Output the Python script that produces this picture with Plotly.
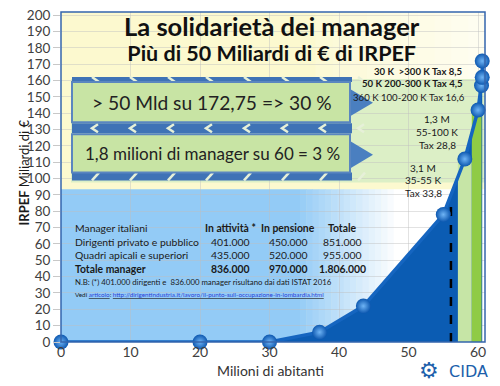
import plotly.graph_objects as go

# ---- data ----
pop_cum = [0, 20, 30, 37.2, 43.5, 55, 58.1, 60.0, 60.5, 60.6, 60.6]   # milioni di abitanti (cumulati)
irpef_cum = [0, 0, 0, 6, 22, 78, 112, 142, 157, 162, 172]          # miliardi di € (cumulati)
bar_x0 = [57.1, 59.1]
bar_x1 = [59.1, 60.5]
bar_top = [112, 141]
bar_colors = ["#c6e5a6", "#8fcb45"]
dash_x = 56.1
dash_top = 88

x_ticks = [0, 10, 20, 30, 40, 50, 60]
y_ticks = list(range(0, 201, 10))

table_rows = [
    ("Manager italiani", "In attività *", "In pensione", "Totale", False, True),
    ("Dirigenti privato e pubblico", "401.000", "450.000", "851.000", False, False),
    ("Quadri apicali e superiori", "435.000", "520.000", "955.000", False, False),
    ("Totale manager", "836.000", "970.000", "1.806.000", True, True),
]

FONT = "Lato"
L, R, T, B = 61, 485, 7, 342
W, H = 500, 386


def px(x):
    return (x - L) / (R - L)


def py(y):
    return (B - y) / (B - T)


fig = go.Figure()

# area under curve
fig.add_trace(go.Scatter(x=pop_cum, y=irpef_cum, mode="none", fill="tozeroy",
                         fillcolor="#0b5cb3", hoverinfo="skip", showlegend=False))
# green bars
for x0, x1, top, c in zip(bar_x0, bar_x1, bar_top, bar_colors):
    fig.add_trace(go.Scatter(x=[x0, x1, x1, x0, x0], y=[0, 0, top, top, 0], mode="none",
                             fill="toself", fillcolor=c, hoverinfo="skip", showlegend=False))
# dashed line
fig.add_trace(go.Scatter(x=[dash_x, dash_x], y=[0, dash_top], mode="lines",
                         line=dict(color="black", width=2.5, dash="dash"), showlegend=False))
# main line
fig.add_trace(go.Scatter(x=pop_cum, y=irpef_cum, mode="lines+markers",
                         line=dict(color="#1565c0", width=3.5),
                         marker=dict(size=15, color="#0d58b0",
                                     gradient=dict(type="radial", color="#6fb4f5"),
                                     line=dict(width=0)),
                         showlegend=False, cliponaxis=False))

shapes = []
# backgrounds
shapes.append(dict(type="rect", xref="paper", yref="paper", x0=0, x1=1, y0=0, y1=1,
                   fillcolor="#fcf9cf", line_width=0, layer="below"))
steps = 10
for i in range(steps):
    a = i / steps
    shapes.append(dict(type="rect", xref="paper", yref="paper", x0=0.6 + 0.4 * a, x1=0.6 + 0.4 * (a + 1 / steps),
                       y0=py(75), y1=1, fillcolor=f"rgba(255,255,255,{0.15 + 0.6 * a:.2f})",
                       line_width=0, layer="below"))
# pale green band
shapes.append(dict(type="rect", xref="paper", yref="paper", x0=px(71), x1=1, y0=py(180), y1=py(75),
                   fillcolor="#dcefc6", line_width=0, layer="below"))
# light blue with gradient to white
shapes.append(dict(type="rect", xref="paper", yref="paper", x0=0, x1=px(300), y0=0, y1=py(187),
                   fillcolor="#93cbf6", line_width=0, layer="below"))
n = 16
c0 = (147, 203, 246)
for i in range(n):
    t = (i + 1) / n
    col = tuple(int(c0[k] + (255 - c0[k]) * t) for k in range(3))
    xa = 300 + (400 - 300) * i / n
    xb = 300 + (400 - 300) * (i + 1) / n
    shapes.append(dict(type="rect", xref="paper", yref="paper", x0=px(xa), x1=px(xb + 0.5), y0=0, y1=py(187),
                       fillcolor="rgb(%d,%d,%d)" % col, line_width=0, layer="below"))
shapes.append(dict(type="rect", xref="paper", yref="paper", x0=px(400), x1=1, y0=0, y1=py(187),
                   fillcolor="#ffffff", line_width=0, layer="below"))

# chevron bands and boxes
BLUE = "#3f73b6"
bands = [(73, 78, "dn"), (120, 130, "lt"), (170, 178, "up")]
for y0b, y1b, kind in bands:
    shapes.append(dict(type="rect", xref="paper", yref="paper", x0=px(72), x1=px(352), y0=py(y1b), y1=py(y0b),
                       fillcolor=BLUE, line_width=0, layer="above"))
    for k in range(8):
        xc = 92 + 38 * k
        if kind == "lt":
            path = "M %f %f L %f %f L %f %f" % (px(xc + 6), py(y0b + 1), px(xc), py((y0b + y1b) / 2), px(xc + 6), py(y1b - 1))
        elif kind == "dn":
            path = "M %f %f L %f %f" % (px(xc), py(y0b), px(xc + 7), py(y1b))
        else:
            path = "M %f %f L %f %f" % (px(xc), py(y1b), px(xc + 7), py(y0b))
        shapes.append(dict(type="path", xref="paper", yref="paper", path=path,
                           line=dict(color="#e6f0d8", width=2.5), layer="above"))

for yb0, yb1, tip in [(78, 119, 99), (131, 170, 152)]:
    shapes.append(dict(type="path", xref="paper", yref="paper",
                       path="M %f %f L %f %f L %f %f Z" % (px(345), py(tip - 17), px(373), py(tip), px(345), py(tip + 17)),
                       fillcolor="#4a7fc0", line_width=0, layer="above"))
    shapes.append(dict(type="rect", xref="paper", yref="paper", x0=px(72), x1=px(350), y0=py(yb1), y1=py(yb0),
                       fillcolor="#c8e4a4", line=dict(color="#5a86c0", width=2), layer="above"))

# plot frame
shapes.append(dict(type="rect", xref="paper", yref="paper", x0=0, x1=1, y0=0, y1=1,
                   line=dict(color="#3566ad", width=1.5), layer="above"))

ann = []


def text(x, y, s, size, bold=False, color="#1a1a1a", xanchor="center", font=FONT):
    if bold:
        s = "<b>" + s + "</b>"
    ann.append(dict(x=px(x), y=py(y), xref="paper", yref="paper", text=s, showarrow=False,
                    xanchor=xanchor, yanchor="middle", font=dict(family=font, size=size, color=color)))


# titles (one two-line annotation)
text(272, 33.5, "<span style='font-size:25.5px'>La solidarietà dei manager</span><br>"
                "<span style='font-size:21.5px'>Più di 50 Miliardi di € di IRPEF</span>", 19.5,
     bold=True, color="#111111")
# boxes
text(212, 99, "> 50 Mld su 172,75 => 30 %", 19.2, color="#222222")
text(212, 151, "1,8 milioni di manager su 60 = 3 %", 17, color="#222222")
# right labels
text(465, 67, "30 K  >300 K Tax 8,5", 9.6, bold=True, xanchor="right")
text(465, 80, "50 K 200-300 K Tax 4,5", 9.6, bold=True, xanchor="right")
text(467, 93.5, "360 K 100-200 K Tax 16,6", 9.6, xanchor="right")
for i, s in enumerate(["1,3 M", "55-100 K", "Tax 28,8"]):
    text(437, 116 + 13 * i, s, 10)
for i, s in enumerate(["3,1 M", "35-55 K", "Tax 33,8"]):
    text(423, 165 + 13 * i, s, 10)

# table
ys = [226, 240, 254, 268]
for (lab, a, b, c, boldv, boldh), yy in zip(table_rows, ys):
    text(73, yy, lab, 10.4, bold=(lab == "Totale manager"), xanchor="left")
    text(230, yy, a, 10.4, bold=boldh)
    text(288, yy, b, 10.4, bold=boldh)
    text(342, yy, c, 10.4, bold=boldh)
text(73, 281, "N.B: (*) 401.000 dirigenti e  836.000 manager risultano dai dati ISTAT 2016", 7.8, xanchor="left")
text(73, 294, "Vedi <u><span style='color:#2b3fd6'>articolo</span></u>: "
     "<u><span style='color:#2b3fd6'>http://dirigentindustria.it/lavoro/il-punto-sull-occupazione-in-lombardia.html</span></u>",
     6.3, xanchor="left")

# axis titles
ann.append(dict(x=px(14), y=py(170), xref="paper", yref="paper", text="<b>IRPEF</b> Miliardi di €",
                showarrow=False, textangle=-90, font=dict(family=FONT, size=13, color="#1a1a1a")))
text(270, 371, "Milioni di abitanti", 14, color="#333333")

# logo
text(429, 371, "⚙", 22, color="#1d5fab", font="DejaVu Sans")
text(468, 372, "CIDA", 16, color="#1d5fab", font="DejaVu Sans")

fig.update_layout(
    width=W, height=H,
    margin=dict(l=L, r=W - R, t=T, b=H - B),
    paper_bgcolor="white", plot_bgcolor="#fcf9cf",
    shapes=shapes, annotations=ann, showlegend=False,
    xaxis=dict(range=[0, 61], tickvals=x_ticks, showgrid=True, gridcolor="rgba(190,190,190,0.45)",
               zeroline=False, showline=False, ticks="", tickfont=dict(family=FONT, size=14, color="#404040")),
    yaxis=dict(range=[0, 202], tickvals=y_ticks, showgrid=True, gridcolor="rgba(190,190,190,0.45)",
               zeroline=False, showline=False, ticks="outside", ticklen=7, tickcolor="#c8c8c8",
               ticksuffix=" ", tickfont=dict(family=FONT, size=13.5, color="#404040")),
)

fig.write_html("out.html", config={"displayModeBar": False},
               post_script="document.body.style.margin='0';document.body.style.overflow='hidden';")
